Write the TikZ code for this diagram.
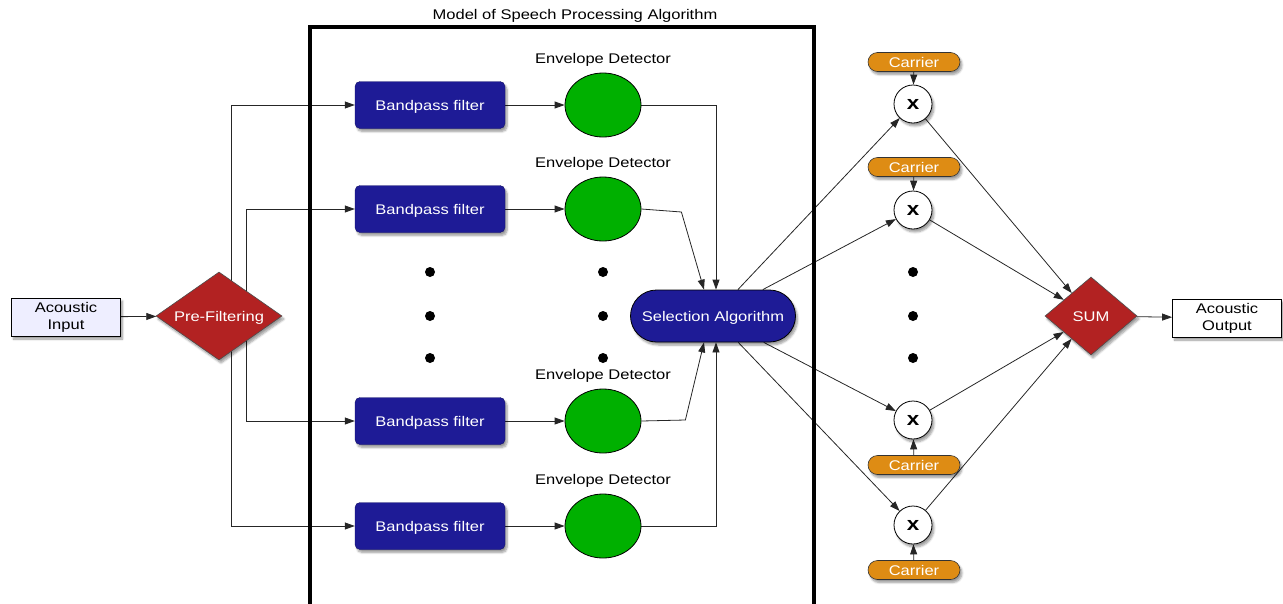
\documentclass[tikz,border=0pt]{standalone}
\usepackage{fontspec}
\setmainfont[FakeStretch=1.18]{Liberation Sans}
\usetikzlibrary{shapes.geometric,shapes.misc,arrows.meta,shadows.blur,backgrounds}
\definecolor{bpblue}{RGB}{30,27,150}
\definecolor{prered}{RGB}{178,34,34}
\definecolor{envgreen}{RGB}{0,176,0}
\definecolor{carrorange}{RGB}{222,140,20}
\definecolor{infill}{RGB}{238,238,255}
\tikzset{
  every node/.style={font=\fontsize{14}{17}\selectfont},
  shad/.style={blur shadow={shadow xshift=2pt,shadow yshift=-3pt,shadow blur steps=6,shadow opacity=40}},
  lowtext/.style={text height=11.5pt,text depth=1.5pt},
  iobox/.style={draw=black,line width=0.8pt,minimum width=109pt,minimum height=38pt,inner sep=0pt,align=center,shad},
  dia/.style={diamond,draw=black!70,line width=0.6pt,fill=prered,text=white,inner sep=0pt,shad},
  bpbox/.style={rectangle,rounded corners=5pt,fill=bpblue,draw=bpblue!70!black,minimum width=150pt,minimum height=47pt,text=white,inner sep=0pt,lowtext,shad},
  envnode/.style={ellipse,draw=black,line width=0.8pt,fill=envgreen,minimum width=76pt,minimum height=64pt,inner sep=0pt,
    label={[label distance=5pt,inner sep=1pt]above:Envelope Detector}},
  selbox/.style={rounded rectangle,fill=bpblue,draw=black,line width=0.8pt,minimum width=165pt,minimum height=52pt,text=white,inner sep=0pt,lowtext,shad},
  mult/.style={circle,draw=black,line width=0.8pt,fill=white,minimum size=38pt,inner sep=0pt,font=\fontsize{19}{20}\selectfont\bfseries,shad},
  carrier/.style={rounded rectangle,fill=carrorange,draw=black!80,line width=0.6pt,minimum width=92pt,minimum height=19pt,inner sep=0pt,text=white,shad},
  bigdot/.style={circle,fill=black,minimum size=10pt,inner sep=0pt},
  arr/.style={-{Triangle[length=10pt,width=7pt]},line width=0.8pt,draw=black!85},
}
\begin{document}
\begin{tikzpicture}[x=1pt,y=-1pt]
\useasboundingbox (0,0) rectangle (1283,603);
% frame
\node (title) at (575,16) {Model of Speech Processing Algorithm};
\draw[line width=4pt] (310,605) -- (310,27) -- (814,27) -- (814,605);
% input side
\node[iobox,fill=infill] (in) at (66,317) {Acoustic\\Input};
\node[dia,minimum width=126pt,minimum height=88pt,label={[text=white,lowtext]center:Pre-Filtering}] (pre) at (219,316) {};
% bandpass filters
\node[bpbox] (bp1) at (430,105) {Bandpass filter};
\node[bpbox] (bp2) at (430,209) {Bandpass filter};
\node[bpbox] (bp3) at (430,421) {Bandpass filter};
\node[bpbox] (bp4) at (430,526) {Bandpass filter};
% envelope detectors
\node[envnode] (env1) at (603,105) {};
\node[envnode] (env2) at (603,209) {};
\node[envnode] (env3) at (603,421) {};
\node[envnode] (env4) at (603,526) {};
% dots
\foreach \c/\x in {a/430,b/603,c/913}{
  \node[bigdot] (dot\c1) at (\x,272) {};
  \node[bigdot] (dot\c2) at (\x,316) {};
  \node[bigdot] (dot\c3) at (\x,358) {};
}
% selection
\node[selbox] (sel) at (713,316) {Selection Algorithm};
% multipliers and carriers
\node[mult] (m1) at (913,104) {x};
\node[mult] (m2) at (913,210) {x};
\node[mult] (m3) at (913,420) {x};
\node[mult] (m4) at (913,525) {x};
\node[carrier] (c1) at (914,62) {Carrier};
\node[carrier] (c2) at (914,167) {Carrier};
\node[carrier] (c3) at (914,465) {Carrier};
\node[carrier] (c4) at (914,570) {Carrier};
% sum and output
\node[dia,minimum width=92pt,minimum height=78pt,label={[text=white,lowtext]center:SUM}] (sum) at (1091,316) {};
\node[iobox,fill=white] (out) at (1227,318) {Acoustic\\Output};
% connectors
\begin{pgfonlayer}{background}
\draw[arr] (in) -- (pre);
\draw[arr] ([xshift=12pt]pre.center) |- (bp1);
\draw[arr] ([xshift=27pt]pre.center) |- (bp2);
\draw[arr] ([xshift=27pt]pre.center) |- (bp3);
\draw[arr] ([xshift=12pt]pre.center) |- (bp4);
\foreach \i in {1,2,3,4}{\draw[arr] (bp\i) -- (env\i);}
\draw[arr] (env1.east) -| ([xshift=3pt]sel.north);
\draw[arr] (env2.east) -- ++(40,3) -- ([xshift=-9pt]sel.north);
\draw[arr] (env3.east) -- ++(44,-1) -- ([xshift=-9pt]sel.south);
\draw[arr] (env4.east) -| ([xshift=3pt]sel.south);
\foreach \i in {1,2,3,4}{
  \draw[arr] (sel) -- (m\i);
  \draw[arr] (c\i) -- (m\i);
  \draw[arr] (m\i) -- (sum);
}
\draw[arr] (sum) -- (out);
\end{pgfonlayer}
\end{tikzpicture}
\end{document}
